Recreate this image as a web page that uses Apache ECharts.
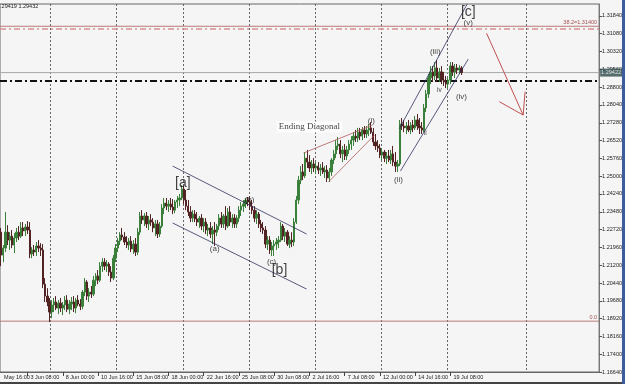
<!DOCTYPE html>
<html><head><meta charset="utf-8">
<script src="https://cdn.jsdelivr.net/npm/echarts@6/dist/echarts.min.js"></script>
<style>html,body{margin:0;padding:0;background:#f5f5f5}#c{width:625px;height:384px}</style>
</head><body><div id="c"></div><script>
// ---- candle data (4H bars) ----
const opens=[1.2261,1.2163,1.2193,1.2261,1.2227,1.2244,1.2206,1.2236,1.2261,1.2244,
1.2279,1.2266,1.2283,1.2270,1.2168,1.2185,1.2176,1.2202,1.2193,1.2185,
1.2039,1.1988,1.1963,1.1920,1.1950,1.1963,1.1937,1.1958,1.1937,1.1950,
1.1971,1.1932,1.1954,1.1963,1.1937,1.1971,1.1954,1.1945,1.2005,1.2048,
1.1988,1.2005,1.1997,1.2056,1.2074,1.2056,1.2116,1.2133,1.2116,1.2125,
1.2091,1.2065,1.2150,1.2193,1.2223,1.2249,1.2240,1.2219,1.2206,1.2223,
1.2189,1.2210,1.2176,1.2261,1.2330,1.2313,1.2330,1.2296,1.2313,1.2304,
1.2279,1.2296,1.2253,1.2287,1.2364,1.2385,1.2372,1.2381,1.2368,1.2355,
1.2390,1.2398,1.2407,1.2445,1.2398,1.2372,1.2347,1.2321,1.2338,1.2317,
1.2304,1.2321,1.2287,1.2304,1.2270,1.2279,1.2253,1.2270,1.2261,1.2287,
1.2321,1.2296,1.2330,1.2287,1.2347,1.2304,1.2321,1.2296,1.2321,1.2355,
1.2372,1.2381,1.2398,1.2390,1.2372,1.2355,1.2321,1.2338,1.2296,1.2279,
1.2270,1.2210,1.2227,1.2185,1.2202,1.2210,1.2219,1.2227,1.2287,1.2244,
1.2261,1.2210,1.2227,1.2219,1.2304,1.2398,1.2483,1.2518,1.2501,1.2577,
1.2560,1.2535,1.2552,1.2535,1.2543,1.2526,1.2535,1.2518,1.2526,1.2492,
1.2518,1.2569,1.2595,1.2629,1.2637,1.2595,1.2612,1.2586,1.2612,1.2637,
1.2654,1.2671,1.2663,1.2688,1.2671,1.2697,1.2680,1.2697,1.2706,1.2688,
1.2646,1.2629,1.2620,1.2590,1.2603,1.2577,1.2586,1.2569,1.2595,1.2560,
1.2543,1.2552,1.2723,1.2714,1.2706,1.2714,1.2697,1.2718,1.2706,1.2740,
1.2714,1.2706,1.2697,1.2791,1.2851,1.2919,1.2945,1.2928,1.2962,1.2919,
1.2945,1.2910,1.2902,1.2893,1.2910,1.2970,1.2945,1.2962,1.2953,1.2962];
const closes=[1.2163,1.2193,1.2261,1.2227,1.2244,1.2206,1.2236,1.2261,1.2244,1.2279,
1.2266,1.2283,1.2270,1.2168,1.2185,1.2176,1.2202,1.2193,1.2185,1.2039,
1.1988,1.1963,1.1920,1.1950,1.1963,1.1937,1.1958,1.1937,1.1950,1.1971,
1.1932,1.1954,1.1963,1.1937,1.1971,1.1954,1.1945,1.2005,1.2048,1.1988,
1.2005,1.1997,1.2056,1.2074,1.2056,1.2116,1.2133,1.2116,1.2125,1.2091,
1.2065,1.2150,1.2193,1.2223,1.2249,1.2240,1.2219,1.2206,1.2223,1.2189,
1.2210,1.2176,1.2261,1.2330,1.2313,1.2330,1.2296,1.2313,1.2304,1.2279,
1.2296,1.2253,1.2287,1.2364,1.2385,1.2372,1.2381,1.2368,1.2355,1.2390,
1.2398,1.2407,1.2445,1.2398,1.2372,1.2347,1.2321,1.2338,1.2317,1.2304,
1.2321,1.2287,1.2304,1.2270,1.2279,1.2253,1.2270,1.2261,1.2287,1.2321,
1.2296,1.2330,1.2287,1.2347,1.2304,1.2321,1.2296,1.2321,1.2355,1.2372,
1.2381,1.2398,1.2390,1.2372,1.2355,1.2321,1.2338,1.2296,1.2279,1.2270,
1.2210,1.2227,1.2185,1.2202,1.2210,1.2219,1.2227,1.2287,1.2244,1.2261,
1.2210,1.2227,1.2219,1.2304,1.2398,1.2483,1.2518,1.2501,1.2577,1.2560,
1.2535,1.2552,1.2535,1.2543,1.2526,1.2535,1.2518,1.2526,1.2492,1.2518,
1.2569,1.2595,1.2629,1.2637,1.2595,1.2612,1.2586,1.2612,1.2637,1.2654,
1.2671,1.2663,1.2688,1.2671,1.2697,1.2680,1.2697,1.2706,1.2688,1.2646,
1.2629,1.2620,1.2590,1.2603,1.2577,1.2586,1.2569,1.2595,1.2560,1.2543,
1.2552,1.2723,1.2714,1.2706,1.2714,1.2697,1.2718,1.2706,1.2740,1.2714,
1.2706,1.2697,1.2791,1.2851,1.2919,1.2945,1.2928,1.2962,1.2919,1.2945,
1.2910,1.2902,1.2893,1.2910,1.2970,1.2945,1.2962,1.2953,1.2962,1.29422];
const lows=[1.2116,1.2133,1.2176,1.2206,1.2185,1.2193,1.2172,1.2219,1.2227,1.2236,
1.2244,1.2244,1.2253,1.2150,1.2150,1.2159,1.2159,1.2176,1.2159,1.2022,
1.1963,1.1945,1.1877,1.1894,1.1920,1.1928,1.1911,1.1920,1.1907,1.1928,
1.1920,1.1911,1.1928,1.1920,1.1915,1.1945,1.1928,1.1932,1.1988,1.1971,
1.1963,1.1980,1.1988,1.2031,1.2039,1.2048,1.2091,1.2099,1.2091,1.2074,
1.2048,1.2056,1.2133,1.2176,1.2206,1.2227,1.2206,1.2193,1.2185,1.2176,
1.2168,1.2159,1.2163,1.2249,1.2296,1.2287,1.2279,1.2270,1.2287,1.2261,
1.2244,1.2236,1.2240,1.2279,1.2338,1.2355,1.2347,1.2355,1.2338,1.2342,
1.2364,1.2372,1.2398,1.2381,1.2355,1.2330,1.2304,1.2304,1.2304,1.2287,
1.2279,1.2270,1.2261,1.2253,1.2244,1.2236,1.2210,1.2202,1.2244,1.2270,
1.2279,1.2279,1.2270,1.2279,1.2287,1.2279,1.2279,1.2279,1.2304,1.2330,
1.2347,1.2364,1.2372,1.2355,1.2338,1.2304,1.2296,1.2279,1.2261,1.2253,
1.2193,1.2185,1.2168,1.2159,1.2159,1.2185,1.2193,1.2219,1.2227,1.2219,
1.2202,1.2193,1.2197,1.2202,1.2296,1.2381,1.2466,1.2483,1.2492,1.2535,
1.2518,1.2509,1.2518,1.2509,1.2509,1.2501,1.2509,1.2492,1.2475,1.2475,
1.2501,1.2552,1.2577,1.2612,1.2577,1.2560,1.2569,1.2569,1.2595,1.2612,
1.2629,1.2646,1.2646,1.2654,1.2654,1.2663,1.2663,1.2671,1.2680,1.2629,
1.2612,1.2603,1.2577,1.2569,1.2560,1.2552,1.2560,1.2552,1.2543,1.2518,
1.2518,1.2543,1.2697,1.2688,1.2680,1.2688,1.2680,1.2688,1.2697,1.2697,
1.2680,1.2680,1.2688,1.2774,1.2834,1.2893,1.2902,1.2910,1.2902,1.2902,
1.2893,1.2885,1.2876,1.2876,1.2893,1.2928,1.2919,1.2936,1.2936,1.2932];
const highs=[1.2279,1.2206,1.2347,1.2291,1.2261,1.2270,1.2257,1.2279,1.2287,1.2304,
1.2304,1.2296,1.2308,1.2304,1.2197,1.2206,1.2219,1.2227,1.2214,1.2210,
1.2065,1.2022,1.1980,1.1971,1.1980,1.1988,1.1971,1.1980,1.1963,1.1988,
1.1992,1.1971,1.1984,1.1988,1.1980,1.1992,1.1975,1.2014,1.2065,1.2056,
1.2022,1.2031,1.2074,1.2086,1.2099,1.2133,1.2150,1.2150,1.2142,1.2133,
1.2116,1.2163,1.2210,1.2236,1.2261,1.2279,1.2261,1.2244,1.2236,1.2244,
1.2227,1.2236,1.2279,1.2347,1.2355,1.2342,1.2347,1.2330,1.2338,1.2321,
1.2313,1.2313,1.2304,1.2381,1.2407,1.2407,1.2398,1.2407,1.2402,1.2398,
1.2415,1.2424,1.2462,1.2458,1.2441,1.2398,1.2372,1.2355,1.2355,1.2347,
1.2330,1.2338,1.2321,1.2321,1.2296,1.2304,1.2287,1.2304,1.2296,1.2338,
1.2347,1.2338,1.2372,1.2364,1.2372,1.2338,1.2338,1.2334,1.2372,1.2390,
1.2398,1.2407,1.2411,1.2415,1.2398,1.2372,1.2355,1.2347,1.2313,1.2304,
1.2287,1.2244,1.2244,1.2219,1.2227,1.2236,1.2244,1.2304,1.2296,1.2279,
1.2270,1.2244,1.2261,1.2321,1.2415,1.2501,1.2543,1.2552,1.2603,1.2612,
1.2590,1.2569,1.2577,1.2560,1.2560,1.2552,1.2560,1.2543,1.2547,1.2535,
1.2577,1.2612,1.2654,1.2667,1.2654,1.2629,1.2637,1.2629,1.2654,1.2671,
1.2688,1.2697,1.2706,1.2706,1.2710,1.2714,1.2714,1.2723,1.2731,1.2706,
1.2680,1.2654,1.2637,1.2620,1.2612,1.2603,1.2612,1.2612,1.2629,1.2603,
1.2569,1.2740,1.2748,1.2740,1.2731,1.2740,1.2731,1.2740,1.2757,1.2765,
1.2748,1.2731,1.2808,1.2868,1.2936,1.2970,1.2970,1.2987,1.2996,1.2962,
1.2970,1.2945,1.2928,1.2919,1.2987,1.2987,1.2979,1.2979,1.2974,1.2970];

// ---- axes ----
const slotCount = 272;
const xTickBars = [12,28,44,60,76,92,108,124,140,156,172,188,204];
const xTickLabels = ["3 Jun 08:00","8 Jun 00:00","10 Jun 16:00","15 Jun 08:00","18 Jun 00:00","22 Jun 16:00","25 Jun 08:00","30 Jun 08:00","2 Jul 16:00","7 Jul 08:00","12 Jul 00:00","14 Jul 16:00","19 Jul 08:00"];
const firstLabel = "May 16:00";
const gridBars = [23,53,83,113,143,173,203,239];
const yTicks = [1.1664,1.1740,1.1816,1.1892,1.1968,1.2044,1.2120,1.2196,1.2272,1.2348,1.2424,1.2500,1.2576,1.2652,1.2728,1.2804,1.2880,1.2956,1.3032,1.3108,1.3184];
const yMin = 1.1664, yMax = 1.3235;

// ---- levels ----
const fibLevel = 1.3140, fibText = "38.2=1.31400";
const upperDashLevel = 1.31285;
const bidLevel = 1.29422, bidText = "1.29422";
const pivotLevel = 1.2906;
const zeroLevel = 1.1881, zeroText = "0.0";
const headerText = "1.29419 1.29432";

// ---- annotations (bar index, price) ----
const channelLines = [
  [[77.9,1.2543],[138.7,1.2253]],
  [[77.9,1.2300],[138.7,1.2018]],
  [[180.8,1.2703],[211.6,1.3235]],
  [[181.3,1.2522],[212.1,1.3000]]
];
const diagonalLines = [
  [[137.3,1.2599],[168.6,1.2718]],
  [[148.6,1.2475],[169.5,1.2675]]
];
const arrowLines = [
  [[220.4,1.3110],[237.0,1.2761]],
  [[226.2,1.2818],[237.0,1.2761]],
  [[237.0,1.2761],[237.9,1.2861]]
];
const waveLabels = [
  ["[a]",82.5,1.2471,14],["[b]",126.4,1.2099,14],["[c]",212.1,1.3201,14],
  ["(a)",97,1.2189,8],["(b)",112.8,1.2398,8],["(c)",122.8,1.2133,8],
  ["(i)",168.1,1.2735,8],["(ii)",180.4,1.2483,8],["(iii)",197.1,1.3030,8],
  ["iv",199,1.2868,6.5],["ii",192.6,1.2684,6.5],["(iv)",209,1.2838,8],["(v)",212.1,1.3154,8]
];
const diagText = ["Ending Diagonal",140.0,1.2710];

// ---- build ----
const xLo = -0.5, xHi = slotCount - 0.5;
const cats = [];
for (let i=0;i<slotCount;i++) cats.push("");
cats[0] = firstLabel;
xTickBars.forEach((b,k)=>{cats[b]=xTickLabels[k];});
const tickSet = new Set(xTickBars);
const gridSet = new Set(gridBars);
const candles = opens.map((o,i)=>[o,closes[i],lows[i],highs[i]]);

const extra = [];
function addSegs(list,color,width){
  list.forEach(s=>extra.push({type:'line',xAxisIndex:1,yAxisIndex:0,data:s,symbol:'none',silent:true,
    lineStyle:{color:color,width:width},z:5}));
}
function addLevel(v,color,width,type,z){
  extra.push({type:'line',xAxisIndex:1,yAxisIndex:0,data:[[xLo,v],[xHi,v]],symbol:'none',silent:true,
    lineStyle:{color:color,width:width,type:type},z:z||3});
}
addLevel(fibLevel,'#b87878',1,'solid');
addLevel(upperDashLevel,'#d89090',1.5,[6,3,2,3]);
addLevel(bidLevel,'#a8a8a8',1,'solid');
addLevel(pivotLevel,'#111111',2,[7,3,2,3]);
addLevel(zeroLevel,'#b87878',1,'solid');
addSegs(channelLines,'#2e3060',0.8);
addSegs(diagonalLines,'#b05a5a',0.8);
addSegs(arrowLines,'#c05050',1);

const font='"Liberation Sans", Arial, sans-serif';
const labelData = waveLabels.map(w=>({value:[w[1],w[2]],label:{formatter:w[0],fontSize:w[3]}}));
labelData.push({value:[diagText[1],diagText[2]],label:{formatter:diagText[0],fontSize:9,
  fontFamily:'"Liberation Serif", "Times New Roman", serif',backgroundColor:'#ffffff',padding:[1,2]}});
labelData.push({value:[xHi,fibLevel],label:{formatter:fibText,fontSize:5.5,color:'#8b1a1a',position:'left',distance:2,offset:[0,-4]}});
labelData.push({value:[xHi,zeroLevel],label:{formatter:zeroText,fontSize:5.5,color:'#8b1a1a',position:'left',distance:2,offset:[0,-4]}});
labelData.push({value:[xHi,bidLevel],label:{formatter:bidText,fontSize:5.5,color:'#ffffff',position:'right',distance:1,
  backgroundColor:'#2d4b4b',padding:[1,1,1,1]}});

const chart = echarts.init(document.getElementById('c'),null,{renderer:'canvas'});
chart.setOption({
  animation:false,
  backgroundColor:'#f5f5f5',
  textStyle:{fontFamily:font},
  graphic:[
    {type:'text',left:-3,top:3,style:{text:headerText,fontSize:5.5,fill:'#222',fontFamily:font}},
    {type:'rect',shape:{x:622,y:0,width:3,height:384},style:{fill:'#3d5c9a'}},
    {type:'rect',shape:{x:0,y:382,width:622,height:2},style:{fill:'#444'}}
  ],
  grid:{left:0,right:25,top:4,bottom:12,show:true,borderColor:'#666',borderWidth:1,backgroundColor:'#f5f5f5'},
  xAxis:[{
    type:'category',data:cats,boundaryGap:true,
    axisLine:{show:true,onZero:false,lineStyle:{color:'#666'}},
    axisTick:{show:true,alignWithLabel:true,length:4,lineStyle:{color:'#444'},interval:(i)=>tickSet.has(i)},
    axisLabel:{interval:0,fontSize:5.5,color:'#222',align:'left',margin:2,padding:[0,0,0,3],fontFamily:font},
    splitLine:{show:true,interval:(i)=>gridSet.has(i),lineStyle:{color:'#666',width:1,type:[2,2]}}
  },{
    type:'value',min:xLo,max:xHi,show:false,axisLine:{onZero:false}
  }],
  yAxis:[{
    type:'value',position:'right',min:yMin,max:yMax,
    axisLine:{show:true,onZero:false,lineStyle:{color:'#777'}},
    axisTick:{show:true,length:3,lineStyle:{color:'#555'},customValues:yTicks},
    axisLabel:{fontSize:5.5,color:'#222',margin:3,customValues:yTicks,formatter:(v)=>v.toFixed(5),fontFamily:font},
    splitLine:{show:false}
  }],
  series:[
    {type:'candlestick',xAxisIndex:0,yAxisIndex:0,data:candles,barWidth:1.8,z:4,
     itemStyle:{color:'#3a7f3a',color0:'#532222',borderColor:'#3a7f3a',borderColor0:'#532222',borderWidth:1}},
    ...extra,
    {type:'scatter',xAxisIndex:1,yAxisIndex:0,symbolSize:0,silent:true,z:6,data:labelData,clip:false,
     label:{show:true,position:'inside',color:'#111',fontFamily:font}}
  ]
});
</script></body></html>
